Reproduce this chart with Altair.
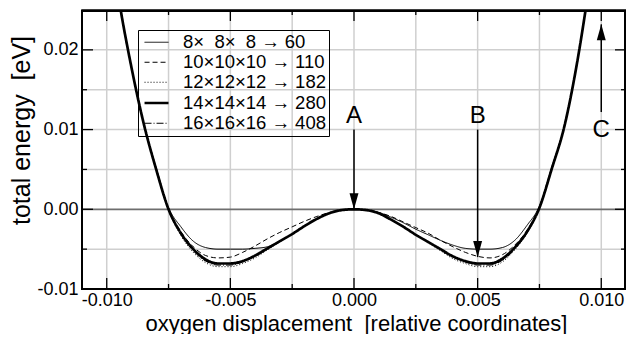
import altair as alt
import pandas as pd

# ---------------- data ----------------
series_labels = [
    "\u20078\u00d7\u20078\u00d7\u20078 \u2192 60",
    "10\u00d710\u00d710 \u2192 110",
    "12\u00d712\u00d712 \u2192 182",
    "14\u00d714\u00d714 \u2192 280",
    "16\u00d716\u00d716 \u2192 408",
]

x_vals = [-0.0105, -0.0100, -0.0095, -0.0090, -0.0085, -0.0080, -0.0075, -0.0070,
          -0.0065, -0.0060, -0.0055, -0.0050, -0.0045, -0.0040, -0.0035, -0.0030,
          -0.0025, -0.0020, -0.0015, -0.0010, -0.0005, 0.0000, 0.0005, 0.0010,
          0.0015, 0.0020, 0.0025, 0.0030, 0.0035, 0.0040, 0.0045, 0.0050,
          0.0055, 0.0060, 0.0065, 0.0070, 0.0075, 0.0080, 0.0085, 0.0090,
          0.0095, 0.0100, 0.0105]

e_8 = [0.0500, 0.0370, 0.0262, 0.0178, 0.0107, 0.0052, 0.0002, -0.0022,
       -0.0040, -0.0048, -0.0050, -0.0050, -0.0050, -0.0049, -0.0047, -0.0040,
       -0.0031, -0.0021, -0.0012, -0.0005, -0.0001, 0.0000, -0.0001, -0.0004,
       -0.0010, -0.0017, -0.0025, -0.0032, -0.0039, -0.0045, -0.0049, -0.0050,
       -0.0050, -0.0048, -0.0039, -0.0020, 0.0004, 0.0053, 0.0104, 0.0181,
       0.0278, 0.0390, 0.0520]
e_10 = [0.0500, 0.0370, 0.0262, 0.0178, 0.0107, 0.0051, 0.0001, -0.0028,
        -0.0047, -0.0058, -0.0061, -0.0060, -0.0054, -0.0046, -0.0037, -0.0029,
        -0.0022, -0.0015, -0.0009, -0.0004, -0.0001, 0.0000, -0.0001, -0.0004,
        -0.0009, -0.0016, -0.0023, -0.0030, -0.0039, -0.0047, -0.0054, -0.0059,
        -0.0061, -0.0057, -0.0045, -0.0026, 0.0004, 0.0052, 0.0103, 0.0180,
        0.0278, 0.0390, 0.0520]
e_12 = [0.0500, 0.0370, 0.0262, 0.0178, 0.0107, 0.0049, -0.0001, -0.0033,
        -0.0054, -0.0067, -0.0072, -0.0072, -0.0068, -0.0061, -0.0051, -0.0041,
        -0.0031, -0.0021, -0.0012, -0.0005, -0.0001, 0.0000, -0.0001, -0.0005,
        -0.0013, -0.0022, -0.0032, -0.0042, -0.0052, -0.0062, -0.0068, -0.0072,
        -0.0072, -0.0066, -0.0051, -0.0030, 0.0001, 0.0050, 0.0102, 0.0180,
        0.0278, 0.0390, 0.0520]
e_14 = [0.0500, 0.0370, 0.0262, 0.0178, 0.0107, 0.0050, 0.0000, -0.0030,
        -0.0050, -0.0063, -0.0068, -0.0068, -0.0065, -0.0058, -0.0049, -0.0040,
        -0.0031, -0.0021, -0.0012, -0.0005, -0.0001, 0.0000, -0.0001, -0.0005,
        -0.0013, -0.0022, -0.0032, -0.0041, -0.0050, -0.0059, -0.0065, -0.0068,
        -0.0068, -0.0062, -0.0048, -0.0028, 0.0002, 0.0051, 0.0103, 0.0180,
        0.0278, 0.0390, 0.0520]
e_16 = [0.0500, 0.0370, 0.0262, 0.0178, 0.0107, 0.0050, 0.0000, -0.0031,
        -0.0052, -0.0065, -0.0070, -0.0070, -0.0066, -0.0059, -0.0050, -0.0040,
        -0.0031, -0.0021, -0.0012, -0.0005, -0.0001, 0.0000, -0.0001, -0.0005,
        -0.0013, -0.0022, -0.0032, -0.0041, -0.0051, -0.0060, -0.0066, -0.0070,
        -0.0070, -0.0064, -0.0050, -0.0029, 0.0002, 0.0051, 0.0103, 0.0180,
        0.0278, 0.0390, 0.0520]

x_grid = [-0.01, -0.0075, -0.005, -0.0025, 0.0, 0.0025, 0.005, 0.0075, 0.01]
y_grid = [-0.005, 0.005, 0.01, 0.015, 0.02]
x_label_vals = [-0.01, -0.005, 0.0, 0.005, 0.01]
y_label_vals = [-0.01, 0.0, 0.01, 0.02]
x_major_ticks = [-0.01, -0.005, 0.0, 0.005, 0.01]
x_minor_ticks = [-0.0075, -0.0025, 0.0025, 0.0075]
y_major_ticks = [-0.01, 0.0, 0.01, 0.02]
y_minor_ticks = [-0.005, 0.005, 0.015]

arrow_names = ["A", "B", "C"]
arrow_x = [0.0, 0.005, 0.01]
arrow_from = [0.0100, 0.0100, 0.0122]
arrow_to = [0.0000, -0.0060, 0.0232]
label_y = [0.0117, 0.0117, 0.0100]

# ---------------- styling ----------------
W, H = 544, 279
FONT = "Liberation Sans"
dash_patterns = [[1, 0], [5, 3], [1, 2], [1, 0], [7, 2, 1, 2]]
widths = [1.0, 1.0, 1.0, 2.7, 1.0]

xscale = alt.Scale(domain=[-0.011, 0.011], nice=False, zero=False)
yscale = alt.Scale(domain=[-0.01, 0.025], nice=False, zero=False)

rows = []
for lab, ys in zip(series_labels, [e_8, e_10, e_12, e_14, e_16]):
    for xv, yv in zip(x_vals, ys):
        rows.append({"x": xv, "E": yv, "series": lab})
df = pd.DataFrame(rows)

xaxis = alt.Axis(
    values=x_label_vals, grid=False, ticks=False, domain=False,
    labelExpr="(datum.value < 0 ? '-' : '') + format(abs(datum.value), '.3f')",
    labelFont=FONT, labelFontSize=18, labelColor="black", labelPadding=2,
    labelFlush=False, labelOverlap=False,
    title="oxygen displacement\u00a0 [relative coordinates]",
    titleFont=FONT, titleFontSize=22, titleFontWeight="normal", titleColor="black",
    titleX=274, titleY=41, titleAlign="center", titleBaseline="alphabetic",
)
yaxis = alt.Axis(
    values=y_label_vals, grid=False, ticks=False, domain=False,
    labelExpr="(datum.value < 0 ? '-' : '') + format(abs(datum.value), '.2f')",
    labelFont=FONT, labelFontSize=18, labelColor="black", labelPadding=4,
    labelOverlap=False,
    title="total energy\u00a0 [eV]",
    titleFont=FONT, titleFontSize=25, titleFontWeight="normal", titleColor="black",
    titleAngle=270, titleX=-53, titleY=120, titleAlign="center",
    titleBaseline="alphabetic",
)


def X(field):
    return alt.X(field, scale=xscale, axis=xaxis)


def Y(field):
    return alt.Y(field, scale=yscale, axis=yaxis)


leg = alt.Legend(
    title=None, orient="none", legendX=56, legendY=20,
    symbolType="M-0.76,0L2.06,0", symbolSize=289, symbolStrokeColor="black",
    symbolFillColor="transparent",
    labelFont=FONT, labelFontSize=18.5, labelColor="black", labelOffset=22,
    labelLimit=400, padding=3, rowPadding=1, strokeColor="black",
)

# grid lines (drawn first, under everything)
grid_x = alt.Chart(pd.DataFrame({"v": x_grid})).mark_rule(
    color="#cfcfcf", strokeWidth=1.5
).encode(x=X("v:Q"), y=alt.value(0), y2=alt.value(H))
grid_y = alt.Chart(pd.DataFrame({"v": y_grid})).mark_rule(
    color="#cfcfcf", strokeWidth=1.5
).encode(y=Y("v:Q"), x=alt.value(0), x2=alt.value(W))

zero = alt.Chart(pd.DataFrame({"y": [0.0]})).mark_rule(
    color="#6e6e6e", strokeWidth=1.8
).encode(y=Y("y:Q"), x=alt.value(0), x2=alt.value(W))

lines = alt.Chart(df).mark_line(clip=True, color="black", interpolate="monotone").encode(
    x=X("x:Q"),
    y=Y("E:Q"),
    strokeDash=alt.StrokeDash("series:N", scale=alt.Scale(domain=series_labels, range=dash_patterns), legend=leg),
    strokeWidth=alt.StrokeWidth("series:N", scale=alt.Scale(type="ordinal", domain=series_labels, range=widths), legend=leg),
)


def tick_layer(vals, channel, side, length):
    d = pd.DataFrame({"v": vals})
    if channel == "x":
        enc = dict(x=X("v:Q"))
        if side == "bottom":
            enc.update(y=alt.value(H), y2=alt.value(H - length))
        else:
            enc.update(y=alt.value(0), y2=alt.value(length))
    else:
        enc = dict(y=Y("v:Q"))
        if side == "left":
            enc.update(x=alt.value(0), x2=alt.value(length))
        else:
            enc.update(x=alt.value(W), x2=alt.value(W - length))
    return alt.Chart(d).mark_rule(color="black", strokeWidth=1.3).encode(**enc)


tick_layers = []
for side in ["bottom", "top"]:
    tick_layers.append(tick_layer(x_major_ticks, "x", side, 11))
    tick_layers.append(tick_layer(x_minor_ticks, "x", side, 5))
for side in ["left", "right"]:
    tick_layers.append(tick_layer(y_major_ticks, "y", side, 11))
    tick_layers.append(tick_layer(y_minor_ticks, "y", side, 5))

# plot frame
one = pd.DataFrame({"k": [0]})
frame = alt.Chart(one).mark_rect(
    fillOpacity=0, stroke="black", strokeWidth=2
).encode(x=alt.value(0), x2=alt.value(W - 1), y=alt.value(1), y2=alt.value(H))

arr_df = pd.DataFrame({"name": arrow_names, "x": arrow_x, "y1": arrow_from,
                       "y2": arrow_to, "ly": label_y})
shafts = alt.Chart(arr_df).mark_rule(color="black", strokeWidth=1.5).encode(
    x=X("x:Q"), y=Y("y1:Q"), y2="y2:Q",
)
heads_down = alt.Chart(arr_df.iloc[:2]).mark_point(
    shape="M-0.28,-1L0.28,-1L0,0Z", size=1024, filled=True, color="black",
    opacity=1, strokeWidth=0,
).encode(x=X("x:Q"), y=Y("y2:Q"))
heads_up = alt.Chart(arr_df.iloc[2:]).mark_point(
    shape="M-0.28,1L0.28,1L0,0Z", size=1024, filled=True, color="black",
    opacity=1, strokeWidth=0,
).encode(x=X("x:Q"), y=Y("y2:Q"))
labels = alt.Chart(arr_df).mark_text(
    font=FONT, fontSize=24, color="black", align="center", baseline="middle"
).encode(x=X("x:Q"), y=Y("ly:Q"), text="name:N")

chart = alt.layer(
    grid_x, grid_y, zero, lines, *tick_layers, frame, shafts, heads_down, heads_up, labels
).properties(
    width=W, height=H,
    autosize=alt.AutoSizeParams(type="none"),
    padding={"left": 74, "top": 2, "right": 0, "bottom": 45},
    background="white",
).configure_view(stroke="black", strokeWidth=1.5)

chart.save("out.html", embed_options={"renderer": "svg", "actions": False})
